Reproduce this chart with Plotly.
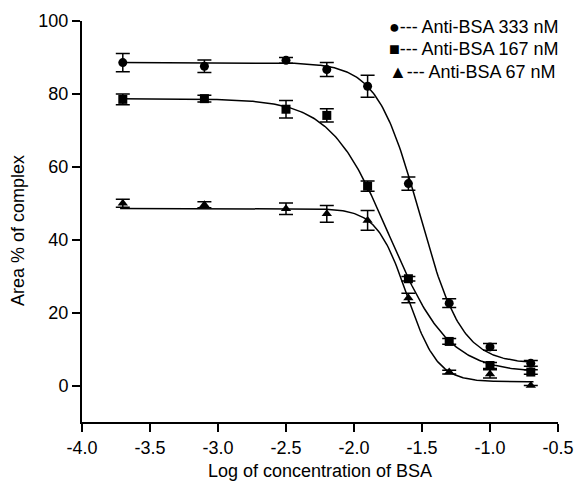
import numpy as np
import plotly.graph_objects as go

# ---- data ----
log_conc = [-3.7, -3.1, -2.5, -2.2, -1.9, -1.6, -1.3, -1.0, -0.7]

area_333 = [88.6, 87.6, 89.2, 86.7, 82.1, 55.4, 22.6, 10.6, 6.1]
err_333 = [2.5, 1.7, 0.8, 1.9, 3.0, 1.8, 1.2, 0.9, 0.8]

area_167 = [78.5, 78.7, 75.8, 74.1, 54.7, 29.3, 12.1, 5.5, 3.7]
err_167 = [1.5, 0.9, 2.4, 1.8, 1.4, 0.6, 0.8, 0.8, 0.6]

area_67 = [50.0, 49.6, 48.5, 47.1, 45.3, 24.0, 3.7, 3.2, 0.0]
err_67 = [1.1, 0.8, 1.6, 2.3, 2.7, 1.3, 0.5, 1.1, 0.0]

# sigmoidal (4-parameter logistic) fit parameters: top, bottom, logEC50, hill slope
fit_333 = [88.6, 6.0, -1.52, 2.8]
fit_167 = [78.7, 3.5, -1.74, 2.0]
fit_67 = [48.6, 1.0, -1.61, 3.9]

labels = ["Anti-BSA 333 nM", "Anti-BSA 167 nM", "Anti-BSA 67 nM"]
symbols = ["circle", "square", "triangle-up"]
legend_glyphs = ["\u25CF", "\u25A0", "\u25B2"]

x_ticks = [-4.0, -3.5, -3.0, -2.5, -2.0, -1.5, -1.0, -0.5]
y_ticks = [0, 20, 40, 60, 80, 100]

FONT = "Liberation Sans, Arial, sans-serif"


def logistic(x, p):
    top, bottom, x0, h = p
    return bottom + (top - bottom) / (1.0 + 10 ** ((x - x0) * h))


fig = go.Figure()
xs = np.linspace(-3.72, -0.68, 300)
series = [(area_333, err_333, fit_333), (area_167, err_167, fit_167), (area_67, err_67, fit_67)]
for (vals, errs, fit), sym, lab in zip(series, symbols, labels):
    fig.add_trace(go.Scatter(x=xs, y=logistic(xs, fit), mode="lines",
                             line=dict(color="black", width=1.5),
                             showlegend=False, hoverinfo="skip"))
    fig.add_trace(go.Scatter(x=log_conc, y=vals, mode="markers", name=lab,
                             marker=dict(symbol=sym, size=9, color="black"),
                             error_y=dict(type="data", array=errs, visible=True,
                                          color="black", thickness=1.5, width=7),
                             showlegend=False))

legend_y = [0.985, 0.930, 0.873]
for g, lab, ly in zip(legend_glyphs, labels, legend_y):
    fig.add_annotation(xref="paper", yref="paper", x=0.641, y=ly,
                       xanchor="left", yanchor="middle", showarrow=False,
                       text=g + "---\u2009" + lab,
                       font=dict(family=FONT, size=18, color="black"))

# y-axis title placed as a rotated annotation (slightly below plot centre, as in the reference)
fig.add_annotation(xref="paper", yref="paper", x=0, y=0.476, xshift=-64,
                   xanchor="center", yanchor="middle", showarrow=False,
                   textangle=-90, text="Area % of complex",
                   font=dict(family=FONT, size=18, color="black"))

fig.update_layout(
    width=575, height=481,
    margin=dict(l=82, r=17, t=21, b=59),
    paper_bgcolor="white", plot_bgcolor="white",
    font=dict(family=FONT, size=18, color="black"),
)
fig.update_xaxes(range=[-4.0, -0.5], tickvals=x_ticks,
                 ticktext=[f"{v:.1f}" for v in x_ticks],
                 showline=True, linecolor="black", linewidth=2,
                 ticks="outside", ticklen=8, tickwidth=2, tickcolor="black",
                 showgrid=False, zeroline=False, automargin=False,
                 tickfont=dict(family=FONT, size=18),
                 title=dict(text="Log of concentration of BSA", standoff=10,
                            font=dict(family=FONT, size=18)))
fig.update_yaxes(range=[-10, 100], tickvals=y_ticks,
                 showline=True, linecolor="black", linewidth=2,
                 ticks="outside", ticklen=8, tickwidth=2, tickcolor="black",
                 showgrid=False, zeroline=False, automargin=False,
                 tickfont=dict(family=FONT, size=18))

fig.write_html("out.html", config={"displayModeBar": False},
               post_script="document.body.style.margin='0';document.body.style.padding='0';")
